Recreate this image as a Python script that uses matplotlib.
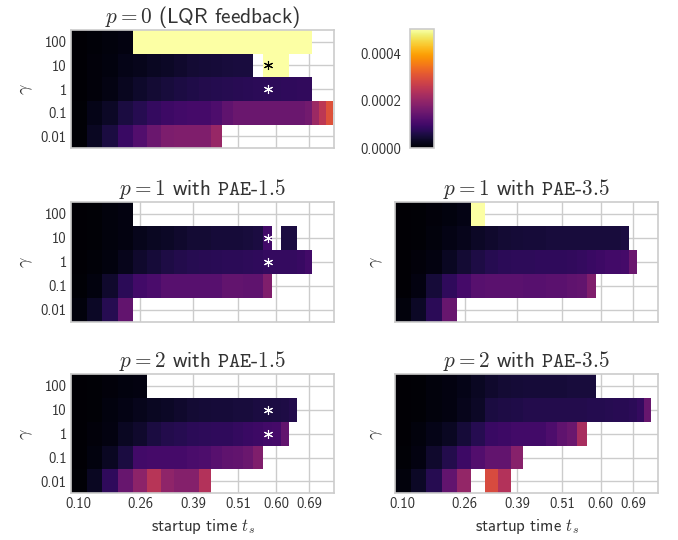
import numpy as np
import matplotlib
matplotlib.use("Agg")
import matplotlib.pyplot as plt
import seaborn as sns

sns.set_theme(style="whitegrid")
plt.rcParams['font.family'] = ['cmss10', 'DejaVu Sans']
plt.rcParams['mathtext.fontset'] = 'cm'
plt.rcParams['axes.unicode_minus'] = False

n = np.nan
Y = 9.0  # saturated (above colour range)

# startup time t_s (cell centres)
ts = [0.100, 0.140, 0.180, 0.219, 0.257, 0.292, 0.327, 0.359, 0.391, 0.421, 0.450, 0.478,
      0.505, 0.530, 0.556, 0.581, 0.603, 0.625, 0.645, 0.665, 0.686, 0.704, 0.722, 0.739]
xtick_labels = ["0.10", "0.26", "0.39", "0.51", "0.60", "0.69"]
gammas = ["100", "10", "1", "0.1", "0.01"]

titles = [r"$p=0$ (LQR feedback)",
          r"$p=1$ with $\mathtt{PAE}$-$\mathtt{1.5}$",
          r"$p=1$ with $\mathtt{PAE}$-$\mathtt{3.5}$",
          r"$p=2$ with $\mathtt{PAE}$-$\mathtt{1.5}$",
          r"$p=2$ with $\mathtt{PAE}$-$\mathtt{3.5}$"]

# values in units of 1e-4, rows gamma = 100, 10, 1, 0.1, 0.01
lqr = [
    [0.03, 0.06, 0.10, 0.15] + [Y] * 17 + [n] * 3,
    [0.03, 0.08, 0.13, 0.20, 0.25, 0.30, 0.35, 0.40, 0.45, 0.48, 0.50, 0.52, 0.53, 0.54, n, Y, Y, Y] + [n] * 6,
    [0.03, 0.08, 0.17, 0.28, 0.38, 0.45, 0.52, 0.58, 0.62, 0.65, 0.68, 0.70, 0.72, 0.74, 0.76, 0.77,
     0.78, 0.80, 0.80, 0.82, 0.82] + [n] * 3,
    [0.05, 0.20, 0.35, 0.55, 0.70, 0.85, 0.95, 1.00, 1.05, 1.05, 1.15, 1.35, 1.50, 1.50, 1.50, 1.50,
     1.50, 1.50, 1.50, 1.50, 1.60, 2.10, 2.50, 3.00],
    [0.05, 0.30, 0.55, 0.90, 1.20, 1.50, 1.70, 1.75, 1.75, 1.75, 2.05] + [n] * 13,
]
p1_pae15 = [
    [0.03, 0.05, 0.10, 0.15] + [n] * 20,
    [0.03, 0.05, 0.10, 0.15, 0.25, 0.30, 0.35, 0.40, 0.45, 0.45, 0.50, 0.50, 0.50, 0.52, 0.55, 1.00,
     n, 0.55, 0.55] + [n] * 5,
    [0.03, 0.06, 0.12, 0.25, 0.40, 0.50, 0.60, 0.65, 0.70, 0.72, 0.74, 0.75, 0.76, 0.78, 0.80, 0.85,
     0.85, 0.85, 0.85, 0.88, 1.00] + [n] * 3,
    [0.05, 0.12, 0.40, 0.75, 1.00, 1.10, 1.25, 1.25, 1.25, 1.25, 1.25, 1.40, 1.40, 1.35, 1.35, 1.75] + [n] * 8,
    [0.10, 0.35, 0.70, 1.40] + [n] * 20,
]
p1_pae35 = [
    [0.03, 0.04, 0.08, 0.12, 0.18, Y] + [n] * 18,
    [0.03, 0.05, 0.10, 0.18, 0.25, 0.35, 0.40, 0.45, 0.48, 0.50, 0.50, 0.52, 0.52, 0.52, 0.52, 0.52,
     0.52, 0.52, 0.52, 0.55] + [n] * 4,
    [0.03, 0.08, 0.15, 0.30, 0.45, 0.60, 0.70, 0.75, 0.78, 0.78, 0.80, 0.80, 0.80, 0.82, 0.85, 0.90,
     0.95, 1.00, 1.00, 1.05, 1.50] + [n] * 3,
    [0.03, 0.15, 0.50, 0.80, 1.05, 1.25, 1.30, 1.30, 1.30, 1.25, 1.25, 1.30, 1.30, 1.35, 1.40, 1.75] + [n] * 8,
    [0.10, 0.35, 0.75, 1.45] + [n] * 20,
]
p2_pae15 = [
    [0.03, 0.05, 0.08, 0.12, 0.15] + [n] * 19,
    [0.03, 0.05, 0.12, 0.18, 0.25, 0.30, 0.35, 0.40, 0.45, 0.48, 0.50, 0.50, 0.52, 0.52, 0.55, 0.55,
     0.58, 0.60, 0.65] + [n] * 5,
    [0.03, 0.08, 0.15, 0.30, 0.40, 0.55, 0.65, 0.70, 0.75, 0.78, 0.80, 0.80, 0.85, 0.90, 0.95, 1.00,
     1.05, 1.40] + [n] * 6,
    [0.03, 0.12, 0.30, 0.55, 1.00, 1.05, 1.05, 1.05, 1.10, 1.15, 1.25, 1.35, 1.40, 1.50, 1.75] + [n] * 9,
    [0.05, 0.30, 0.80, 1.45, 1.90, 2.45, 1.95, 1.80, 1.80, 2.40] + [n] * 14,
]
p2_pae35 = [
    [0.03, 0.05, 0.10, 0.15, 0.20, 0.30, 0.40, 0.45, 0.48, 0.50, 0.50, 0.50, 0.50, 0.52, 0.52, 0.52] + [n] * 8,
    [0.03, 0.05, 0.10, 0.15, 0.25, 0.35, 0.55, 0.60, 0.62, 0.65, 0.65, 0.65, 0.65, 0.65, 0.65, 0.68,
     0.68, 0.70, 0.72, 0.72, 0.75, 0.85, 1.45, n],
    [0.03, 0.10, 0.20, 0.30, 0.50, 0.70, 0.90, 0.95, 1.00, 1.00, 1.00, 1.15, 1.35, 1.50, 2.25] + [n] * 9,
    [0.05, 0.15, 0.40, 0.65, 0.95, 1.20, 1.40, 1.40, 1.85] + [n] * 15,
    [0.10, 0.35, 0.70, 1.40, 2.00, n, 2.90, 2.40] + [n] * 16,
]
panels = [lqr, p1_pae15, p1_pae35, p2_pae15, p2_pae35]

# stars: (panel, gamma row, t_s index, colour)
stars = [(0, 1, 15, "black"), (0, 2, 15, "white"),
         (1, 1, 15, "white"), (1, 2, 15, "white"),
         (3, 1, 15, "white"), (3, 2, 15, "white")]

W, H = 678, 540
fig = plt.figure(figsize=(W / 100, H / 100), dpi=100)

def rect(x0, y0, x1, y1):
    return [x0 / W, 1 - y1 / H, (x1 - x0) / W, (y1 - y0) / H]

rects = [rect(71, 30, 334, 148.3), rect(71, 202, 334, 321.7), rect(395, 202, 658.3, 321.7),
         rect(71, 374, 334, 493.3), rect(395, 374, 658.3, 493.3)]

vmax = 0.0005
text_c = "0.2"
tick_fs = 10.5
mesh = None
axes = []
for k, (data, r, title) in enumerate(zip(panels, rects, titles)):
    ax = fig.add_axes(r)
    axes.append(ax)
    Z = np.array(data, dtype=float) * 1e-4
    Z = np.ma.masked_invalid(Z)
    yy = np.arange(len(gammas))
    mesh = ax.pcolormesh(np.array(ts), yy, Z, cmap="inferno", vmin=0, vmax=vmax,
                         shading="nearest", zorder=1)
    ax.set_axisbelow(True)
    ax.grid(True, color="0.8", lw=1.0, zorder=0)
    ax.set_xlim(0.08, 0.75)
    ax.set_ylim(4.5, -0.5)
    ax.set_xticks(ts[::4][:len(xtick_labels)])
    ax.set_yticks(yy)
    for s in ax.spines.values():
        s.set_color("0.8")
        s.set_linewidth(1.2)
    ax.tick_params(length=0, labelsize=tick_fs, colors=text_c, pad=3)
    if k in (0, 1, 3):
        ax.set_yticklabels(gammas)
    else:
        ax.set_yticklabels([])
    if k in (3, 4):
        ax.set_xticklabels(xtick_labels)
        ax.set_xlabel(r"startup time $t_s$", fontsize=12, color=text_c, labelpad=4)
    else:
        ax.set_xticklabels([])
    ax.set_ylabel(r"$\gamma$", fontsize=13, color=text_c, labelpad=4)
    ax.set_title(title, fontsize=15.3, color=text_c, pad=5)

for (pk, row, idx, col) in stars:
    axes[pk].plot(ts[idx], row, marker=(6, 2, 0), ms=6.5, mew=0.8, color=col, zorder=3)

cax = fig.add_axes(rect(410, 29.3, 434, 148.3))
cb = fig.colorbar(mesh, cax=cax)
cb.set_ticks([0.0, 0.0002, 0.0004])
cb.set_ticklabels(["0.0000", "0.0002", "0.0004"])
cax.yaxis.set_ticks_position("left")
cax.tick_params(length=0, labelsize=tick_fs, colors=text_c, pad=6)
cb.outline.set_edgecolor("0.8")
cb.outline.set_linewidth(1.2)

fig.savefig("out.png", dpi=100)
